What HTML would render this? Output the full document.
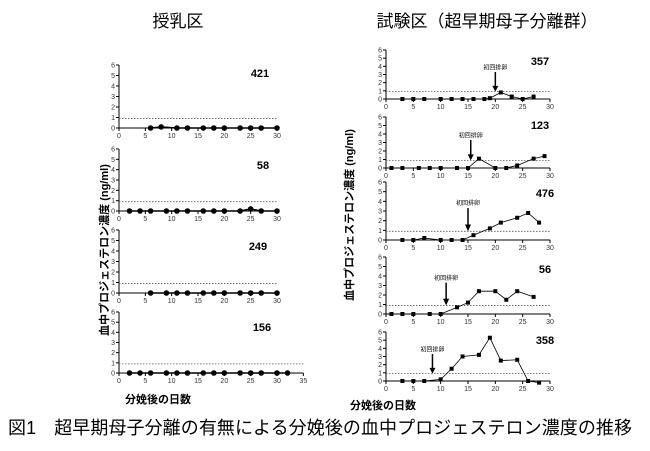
<!DOCTYPE html><html><head><meta charset="utf-8"><style>body{margin:0;background:#fff}svg{display:block}text{font-family:"Liberation Sans","Noto Sans CJK JP",sans-serif}</style></head><body>
<svg id="s" width="650" height="451" viewBox="0 0 650 451" xmlns="http://www.w3.org/2000/svg">
<text x="178" y="27" font-size="17" text-anchor="middle" font-family="Noto Sans CJK JP">授乳区</text>
<text x="487" y="27" font-size="17" text-anchor="middle" font-family="Noto Sans CJK JP">試験区（超早期母子分離群）</text>
<text transform="translate(108,250) rotate(-90)" font-size="11" font-weight="bold" text-anchor="middle">血中プロジェステロン濃度 (ng/ml)</text>
<text transform="translate(353,215) rotate(-90)" font-size="11" font-weight="bold" text-anchor="middle">血中プロジェステロン濃度 (ng/ml)</text>
<text x="158" y="403" font-size="11" font-weight="bold" text-anchor="middle">分娩後の日数</text>
<text x="383" y="409" font-size="11" font-weight="bold" text-anchor="middle">分娩後の日数</text>
<text x="8" y="434" font-size="18" font-family="Noto Serif CJK SC,serif" textLength="624">図1　超早期母子分離の有無による分娩後の血中プロジェステロン濃度の推移</text>
</svg>
<script>
const s=document.getElementById('s');let h='';
function panel(x0,x30,y0,y6,xmax,id,lx,ly,data,circ,arrow){
 const dx=(x30-x0)/30,dy=(y0-y6)/6;const X=d=>x0+d*dx,Y=v=>y0-v*dy;
 const xe=X(xmax);
 h+=`<line x1="${x0}" y1="${y6}" x2="${x0}" y2="${y0}" stroke="#000" stroke-width="1"/>`;
 h+=`<line x1="${x0}" y1="${y0}" x2="${xe}" y2="${y0}" stroke="#000" stroke-width="1"/>`;
 for(let i=0;i<=6;i++){h+=`<line x1="${x0-3}" y1="${Y(i)}" x2="${x0}" y2="${Y(i)}" stroke="#000"/><text x="${x0-4}" y="${Y(i)+2.5}" font-size="7" text-anchor="end" fill="#333">${i}</text>`;}
 for(let d=0;d<=xmax;d+=5){h+=`<line x1="${X(d)}" y1="${y0}" x2="${X(d)}" y2="${y0+3}" stroke="#000"/><text x="${X(d)}" y="${y0+10}" font-size="7" text-anchor="middle" fill="#333">${d}</text>`;}
 h+=`<line x1="${x0}" y1="${Y(0.9)}" x2="${xe}" y2="${Y(0.9)}" stroke="#555" stroke-dasharray="1.5,1.5" stroke-width="0.8"/>`;
 h+=`<polyline fill="none" stroke="#000" stroke-width="${circ?1.5:0.8}" points="${data.map(p=>X(p[0])+','+Y(p[1])).join(' ')}"/>`;
 for(const p of data){h+=circ?`<circle cx="${X(p[0])}" cy="${Y(p[1])}" r="2.8"/>`:`<rect x="${X(p[0])-2}" y="${Y(p[1])-2}" width="4" height="4"/>`;}
 h+=`<text x="${lx}" y="${ly}" font-size="11" font-weight="bold" text-anchor="middle">${id}</text>`;
 if(arrow!=null){const ax=X(arrow);h+=`<text x="${ax}" y="${Y(3.6)}" font-size="6" text-anchor="middle">初回排卵</text><line x1="${ax}" y1="${Y(3.3)}" x2="${ax}" y2="${Y(1.3)}" stroke="#000" stroke-width="1.5"/><polygon points="${ax-3},${Y(1.6)} ${ax+3},${Y(1.6)} ${ax},${Y(0.9)}"/>`;}
}
const z=a=>a.map(d=>typeof d=='number'?[d,0]:d);
panel(119,277,128,65,30,'421',260,77,z([6,[8,0.1],11,13,16,18,20,23,25,27,30]),1);
panel(119,277,211,149,30,'58',263,169,z([2,4,6,9,11,13,16,18,20,23,[25,0.2],27,30]),1);
panel(119,277,293,230,30,'249',258,250,z([6,9,11,13,16,18,20,23,25,27,30]),1);
panel(119,277,373,312,35,'156',262,331,z([2,4,6,9,11,13,16,18,20,23,25,27,30,32]),1);
panel(386,550,99,50,30,'357',540,65,z([3,5,7,10,12,14,16,18,[19,0.1],[21,0.8],[23,0.3],25,[27,0.3]]),0,20);
panel(386,550,168,117,30,'123',540,129,z([1,3,6,8,10,13,15,[17,1.1],20,22,[24,0.3],[27,1.1],[29,1.4]]),0,15.5);
panel(386,550,240,182,30,'476',545,197,z([3,5,[7,0.2],10,12,14,[16,0.5],[19,1.2],[21,1.8],[24,2.3],[26,2.8],[28,1.8]]),0,15);
panel(386,550,314,257,30,'56',545,273,z([1,3,5,8,10,[13,0.7],[15,1.2],[17,2.4],[20,2.4],[22,1.5],[24,2.4],[27,1.8]]),0,11);
panel(386,550,381,332,30,'358',545,344,z([3,5,7,[10,0.2],[12,1.5],[14,3],[17,3.2],[19,5.3],[21,2.5],[24,2.6],26,[28,-0.2]]),0,8.5);
s.insertAdjacentHTML('beforeend',h);
</script></body></html>
